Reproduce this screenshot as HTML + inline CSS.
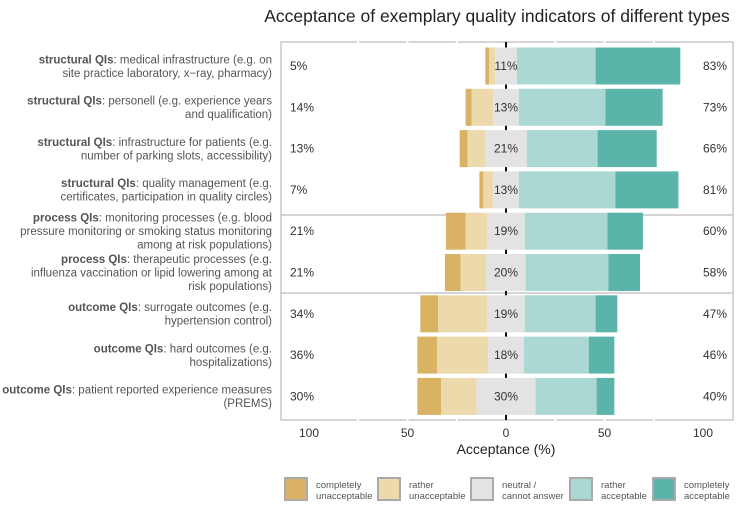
<!DOCTYPE html>
<html><head><meta charset="utf-8"><style>
body{margin:0;background:#fff;font-family:"Liberation Sans",sans-serif;}
svg text{font-family:"Liberation Sans",sans-serif;}
</style></head><body>
<svg id="chart" width="738" height="508" xmlns="http://www.w3.org/2000/svg">
<text x="497" y="22" text-anchor="middle" font-size="17.5" fill="#222">Acceptance of exemplary quality indicators  of different types</text>
<g id="frame"></g>
<g id="labels"></g>
<g id="bars"></g>
<g id="axis"></g>
<text x="506" y="454" text-anchor="middle" font-size="14" fill="#222">Acceptance (%)</text>
<g id="legend"></g>
</svg>
<script>
const catBold=["structural QIs","structural QIs","structural QIs","structural QIs","process QIs","process QIs","outcome QIs","outcome QIs","outcome QIs"];
const catText=[["medical infrastructure (e.g. on","site practice laboratory, x\u2212ray, pharmacy)"],["personell (e.g. experience years","and qualification)"],["infrastructure for patients (e.g.","number of parking slots, accessibility)"],["quality management (e.g.","certificates, participation in quality circles)"],["monitoring processes (e.g. blood","pressure monitoring or smoking status monitoring","among at risk populations)"],["therapeutic processes (e.g.","influenza vaccination or lipid lowering among at","risk populations)"],["surrogate outcomes (e.g.","hypertension control)"],["hard outcomes (e.g.","hospitalizations)"],["patient reported experience measures","(PREMS)"]];
const completelyUnacc=[2,3,4,2,10,8,9,10,12];
const ratherUnacc=[3,11,9,5,11,13,25,26,18];
const neutral=[11,13,21,13,19,20,19,18,30];
const ratherAcc=[40,44,36,49,42,42,36,33,31];
const completelyAcc=[43,29,30,32,18,16,11,13,9];
const negLabels=["5%","14%","13%","7%","21%","21%","34%","36%","30%"];
const neuLabels=["11%","13%","21%","13%","19%","20%","19%","18%","30%"];
const posLabels=["83%","73%","66%","81%","60%","58%","47%","46%","40%"];
const tickVals=[-100,-50,0,50,100];
const tickLabels=["100","50","0","50","100"];
const legendLabels=[["completely","unacceptable"],["rather","unacceptable"],["neutral /","cannot answer"],["rather","acceptable"],["completely","acceptable"]];
const colors=["#d9b263","#ecd9ac","#e3e3e3","#acd8d4","#5ab4aa"];
const NS="http://www.w3.org/2000/svg";
const x=v=>506+v*1.97;
const rowY=i=>66+i*41.3;
function mk(tag,attrs,parent,txt){const e=document.createElementNS(NS,tag);for(const k in attrs)e.setAttribute(k,attrs[k]);if(txt!==undefined)e.textContent=txt;parent.appendChild(e);return e;}
const frame=document.getElementById('frame');
mk('rect',{x:281,y:42,width:452,height:378,fill:'none',stroke:'#bbb','stroke-width':1.2},frame);
[215,293].forEach(y=>mk('line',{x1:281,x2:733,y1:y,y2:y,stroke:'#bbb','stroke-width':1.2},frame));
[-75,-50,-25,25,50,75].forEach(v=>{mk('line',{x1:x(v),x2:x(v),y1:40,y2:44,stroke:'#fff','stroke-width':2},frame);mk('line',{x1:x(v),x2:x(v),y1:418,y2:422,stroke:'#fff','stroke-width':2},frame);});
const bars=document.getElementById('bars');
const zl=mk('line',{x1:x(0),x2:x(0),y1:42,y2:420,stroke:'#111','stroke-width':2},bars);

const series=[completelyUnacc,ratherUnacc,neutral,ratherAcc,completelyAcc];
for(let i=0;i<9;i++){
 const cy=rowY(i),h=37;
 const g=mk('g',{},bars);
 
 
 let start=-(completelyUnacc[i]+ratherUnacc[i]+neutral[i]/2);
 for(let s=0;s<5;s++){
  const v=series[s][i];
  const r=mk('rect',{x:x(start),y:cy-h/2,width:v*1.97,height:h,fill:colors[s]},g);
  
  
  start+=v;
 }
 const t1=mk('text',{x:290,y:cy+4,'font-size':12,fill:'#333'},g,negLabels[i]);
 
 const t2=mk('text',{x:x(0),y:cy+4,'font-size':12,fill:'#333','text-anchor':'middle'},g,neuLabels[i]);
 
 const t3=mk('text',{x:727,y:cy+4,'font-size':12,fill:'#333','text-anchor':'end'},g,posLabels[i]);
 
}
const lab=document.getElementById('labels');
for(let i=0;i<9;i++){
 const lines=catText[i],n=lines.length,lh=13.5;
 const y0=rowY(i)-(n-1)*lh/2+4;
 lines.forEach((ln,j)=>{
  const t=mk('text',{x:272,y:y0+j*lh,'text-anchor':'end','font-size':11.5,fill:'#555'},lab);
  
  if(j===0){mk('tspan',{'font-weight':'bold',fill:'#555'},t,catBold[i]);mk('tspan',{},t,': '+ln);}
  else t.textContent=ln;
 });
}
const ax=document.getElementById('axis');
tickVals.forEach((v,k)=>{const t=mk('text',{x:x(v),y:437,'text-anchor':'middle','font-size':12,fill:'#333'},ax,tickLabels[k]);
 });
const lg=document.getElementById('legend');
const lx=[285,378,471,570,653];
legendLabels.forEach((l,k)=>{
 const g=mk('g',{},lg);
 
 mk('rect',{x:lx[k],y:478,width:22,height:22,fill:colors[k],stroke:'#aaa','stroke-width':2},g);
 mk('text',{x:lx[k]+31,y:488,'font-size':9.5,fill:'#555'},g,l[0]);
 mk('text',{x:lx[k]+31,y:499,'font-size':9.5,fill:'#555'},g,l[1]);
});
</script>
</body></html>
